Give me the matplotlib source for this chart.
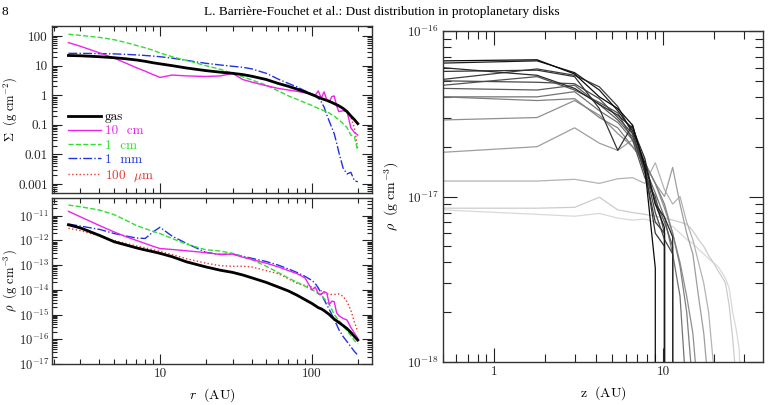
import numpy as np
import matplotlib
matplotlib.use("Agg")
import matplotlib.pyplot as plt
from matplotlib.ticker import FixedLocator, FixedFormatter, LogLocator, NullFormatter

plt.rcParams['mathtext.fontset'] = 'cm'
plt.rcParams['font.family'] = ['DejaVu Serif']

# ---------------- data: radial profiles ----------------
r = [2.5, 3, 4, 5, 6, 7, 8, 9, 10, 12, 15, 20, 25, 30, 35, 40, 50, 60, 70, 80, 90,
     100, 105, 110, 115, 120, 125, 130, 135, 140, 145, 150, 160, 170, 180, 190, 200]

sigma_gas = [22, 21.5, 20, 18.5, 17, 15.5, 14, 12.5, 11.5, 10, 8.3, 6.8, 6.0, 5.5, 5.0, 4.4, 3.4, 2.5, 2.0, 1.6, 1.3,
             1.05, 0.95, 0.85, 0.78, 0.72, 0.67, 0.62, 0.57, 0.52, 0.48, 0.44, 0.36, 0.28, 0.2, 0.15, 0.11]
sigma_10cm = [60, 45, 27, 18, 12, 8.5, 6.5, 5, 4.0, 4.8, 4.5, 4.3, 4.5, 5.5, 3.4, 2.8, 2.1, 1.7, 1.5, 1.35, 1.2,
              1.1, 1.0, 1.4, 0.8, 1.3, 0.7, 0.6, 0.9, 0.95, 0.45, 0.28, 0.3, 0.28, 0.08, 0.055, 0.045]
sigma_1cm = [115, 105, 90, 75, 60, 48, 40, 33, 27, 20, 15, 10, 7.5, 5.5, 4.2, 3.3, 2.2, 1.4, 0.95, 0.72, 0.56,
             0.45, 0.4, 0.36, 0.33, 0.3, 0.27, 0.25, 0.22, 0.2, 0.17, 0.15, 0.11, 0.08, 0.045, 0.04, 0.013]
sigma_1mm = [26, 26, 25.5, 25, 24, 23, 22, 21, 20, 18, 15, 12, 10.5, 9.5, 8.8, 7.8, 5.5, 3.5, 2.5, 1.9, 1.4,
             1.1, 0.95, 0.8, 0.6, 0.4, 0.22, 0.13, 0.08, 0.05, 0.025, 0.012, 0.0035, 0.0022, 0.0025, 0.0013, 0.0012]
sigma_100um = [22, 21.5, 20, 18.5, 17, 15.5, 14, 12.5, 11.5, 10, 8.3, 6.8, 6.0, 5.5, 5.0, 4.4, 3.4, 2.5, 2.0, 1.6, 1.3,
               1.05, 0.95, 0.85, 0.78, 0.72, 0.67, 0.62, 0.57, 0.52, 0.48, 0.44, 0.36, 0.27, 0.18, 0.08, 0.015]

rho_gas = [4.3e-12, 3.2e-12, 1.6e-12, 8.8e-13, 6.5e-13, 5.0e-13, 4.1e-13, 3.5e-13, 3.0e-13, 2.2e-13, 1.35e-13, 8.5e-14,
           6.2e-14, 5.1e-14, 4.0e-14, 3.1e-14, 2.0e-14, 1.3e-14, 9.0e-15, 6.0e-15, 4.0e-15, 2.8e-15, 2.3e-15, 1.9e-15,
           1.7e-15, 1.45e-15, 1.2e-15, 1.0e-15, 8e-16, 6.5e-16, 5.6e-16, 4.8e-16, 3.6e-16, 2.7e-16, 1.9e-16, 1.3e-16, 9.3e-17]
rho_10cm = [1.5e-11, 9e-12, 4e-12, 2.2e-12, 1.4e-12, 1.0e-12, 7.5e-13, 5.8e-13, 4.7e-13, 4.3e-13, 3.8e-13, 3.2e-13,
            2.7e-13, 2.8e-13, 2.1e-13, 1.7e-13, 1.2e-13, 8.5e-14, 6e-14, 4.5e-14, 3.0e-14, 1.0e-14, 1.3e-14, 7e-15,
            6.5e-15, 8.5e-15, 7.5e-15, 2.6e-15, 3.5e-15, 3.3e-15, 1.2e-15, 9e-16, 7e-16, 6e-16, 3e-16, 1.8e-16, 1.1e-16]
rho_1cm = [2.7e-11, 2.3e-11, 1.7e-11, 1.1e-11, 6.5e-12, 4.0e-12, 3.0e-12, 2.3e-12, 1.9e-12, 1.2e-12, 7.0e-13, 4.2e-13,
           3.7e-13, 3.0e-13, 2.2e-13, 1.7e-13, 9e-14, 5e-14, 3e-14, 2.0e-14, 1.4e-14, 1.0e-14, 8.5e-15, 7e-15,
           5.7e-15, 4.5e-15, 3.4e-15, 2.5e-15, 1.6e-15, 1.0e-15, 7.5e-16, 6e-16, 3.5e-16, 2.2e-16, 1.4e-16, 9e-17, 6.5e-17]
rho_1mm = [4.6e-12, 3.8e-12, 2.8e-12, 1.9e-12, 1.5e-12, 1.25e-12, 1.2e-12, 2.2e-12, 3.4e-12, 1.5e-12, 7.5e-13, 3.3e-13,
           2.7e-13, 2.8e-13, 2.3e-13, 1.9e-13, 1.4e-13, 1.0e-13, 7e-14, 5.0e-14, 3.5e-14, 2.4e-14, 1.8e-14, 1.2e-14,
           7e-15, 4e-15, 2.5e-15, 1.6e-15, 1.0e-15, 6e-16, 4e-16, 2.5e-16, 1.3e-16, 8e-17, 5e-17, 3.2e-17, 2.3e-17]
rho_100um = [3.1e-12, 2.5e-12, 1.5e-12, 1.0e-12, 7.5e-13, 6e-13, 5e-13, 4.2e-13, 3.6e-13, 2.7e-13, 1.8e-13, 1.2e-13,
             9.5e-14, 9e-14, 9e-14, 8.5e-14, 6e-14, 4.5e-14, 2.8e-14, 1.8e-14, 1.5e-14, 1.3e-14, 1.2e-14, 1.1e-14,
             9e-15, 7.5e-15, 7e-15, 6.5e-15, 6.5e-15, 6.5e-15, 6.7e-15, 6.8e-15, 5.5e-15, 3.3e-15, 1.5e-15, 5e-16, 2e-16]

series_labels = ['gas', '10  cm', '1  cm', '1  mm', r'100  $\mu$m']
series_colors = ['black', '#ee22ee', '#33dd33', '#2233dd', '#ee3333']
series_styles = ['-', '-', '--', '-.', ':']
series_widths = [2.0, 1.0, 1.0, 1.0, 1.0]

# ---------------- data: vertical profiles (units of 1e-17 g cm^-3) ----------------
z = [0.5, 1.8, 3.0, 4.2, 5.4, 6.6, 7.8, 9.0, 10.2, 11.4, 12.6, 13.8, 15.0, 16.2, 17.4,
     18.6, 19.8, 21.0, 22.2, 23.4, 24.6, 25.8, 27.0, 28.2, 29.4]
vertical_profiles = [
    [0.83, 0.78, 0.76, 0.79, 0.74, 0.72, 0.73, 0.70, 0.68, 0.66, 0.60, 0.55, 0.52, 0.48, 0.45, 0.42, 0.40, 0.38, 0.35, 0.32, 0.28, 0.20, 0.16, 0.12, 0.04],
    [0.85, 0.85, 0.86, 0.99, 0.83, 0.80, 0.78, 0.76, 0.74, 0.72, 0.70, 0.68, 0.62, 0.55, 0.50, 0.44, 0.40, 0.36, 0.33, 0.30, 0.22, 0.14, 0.08, 0.03],
    [1.24, 1.24, 1.27, 1.20, 1.28, 1.30, 1.20, 1.60, 1.10, 0.90, 1.00, 0.70, 0.55, 0.40, 0.30, 0.20, 0.10, 0.05],
    [1.85, 2.00, 2.60, 2.10, 1.90, 2.20, 1.60, 1.20, 1.00, 1.50, 0.90, 0.60, 0.45, 0.25, 0.15, 0.07],
    [2.90, 3.00, 3.80, 3.10, 2.40, 2.00, 1.60, 1.20, 0.85, 0.60, 0.40, 0.25, 0.15, 0.06],
    [4.00, 3.80, 3.90, 3.00, 2.60, 2.00, 1.60, 1.20, 0.90, 0.60, 0.38, 0.20, 0.07],
    [4.00, 4.00, 4.30, 3.30, 2.80, 2.20, 1.50, 1.05, 0.75, 0.45, 0.25, 0.06],
    [4.50, 4.40, 4.70, 3.60, 2.90, 2.30, 1.40, 0.95, 0.70, 0.50, 0],
    [4.70, 5.30, 4.40, 3.70, 3.20, 2.20, 1.30, 1.00, 0.60, 0],
    [5.00, 4.90, 4.80, 3.90, 3.00, 2.40, 1.50, 0.80, 0.55, 0.45, 0],
    [5.10, 5.90, 5.40, 4.60, 3.50, 2.40, 1.40, 0.70, 0.60, 0],
    [5.70, 5.80, 5.30, 3.40, 1.90, 2.70, 1.50, 0.60, 0.50, 0],
    [6.00, 5.40, 4.50, 3.60, 3.10, 2.60, 1.70, 0.90, 0.75, 0.57, 0],
    [6.40, 6.60, 5.60, 4.40, 3.30, 2.50, 1.60, 0.90, 0.65, 0],
    [6.60, 6.70, 5.50, 4.00, 3.40, 2.70, 1.50, 0.37, 0],
]
profile_grays = [0.85, 0.80, 0.70, 0.62, 0.56, 0.50, 0.45, 0.36, 0.32, 0.28, 0.24, 0.20, 0.16, 0.10, 0.04]

sigma_ticks = [1e-3, 1e-2, 1e-1, 1, 10, 100]
sigma_ticklabels = ['0.001', '0.01', '0.1', '1', '10', '100']
rho_ticks = [1e-17, 1e-16, 1e-15, 1e-14, 1e-13, 1e-12, 1e-11]
rho_ticklabels = [r'$10^{-17}$', r'$10^{-16}$', r'$10^{-15}$', r'$10^{-14}$', r'$10^{-13}$', r'$10^{-12}$', r'$10^{-11}$']
r_ticks = [10, 100]
r_ticklabels = ['10', '100']
vz_ticks = [1e-18, 1e-17, 1e-16]
vz_ticklabels = [r'$10^{-18}$', r'$10^{-17}$', r'$10^{-16}$']
z_ticks = [1, 10]
z_ticklabels = ['1', '10']

# ---------------- figure ----------------
W, H = 768, 405
fig = plt.figure(figsize=(W / 100, H / 100), dpi=100)

def box(l, t, rr, b):
    return [l / W, 1 - b / H, (rr - l) / W, (b - t) / H]

ax1 = fig.add_axes(box(52, 26, 372, 193))
ax2 = fig.add_axes(box(52, 198, 372, 364))
ax3 = fig.add_axes(box(443, 31, 763, 362))

def style(ax):
    ax.set_xscale('log')
    ax.set_yscale('log')
    ax.tick_params(which='both', direction='in', top=True, right=True, width=0.8, colors='#222222')
    ax.tick_params(which='major', length=7, labelsize=9.5, pad=3)
    ax.tick_params(which='minor', length=3.5)
    for s in ax.spines.values():
        s.set_linewidth(1.0)
        s.set_color('#333333')
    ax.xaxis.set_minor_locator(LogLocator(base=10, subs=np.arange(2, 10), numticks=20))
    ax.yaxis.set_minor_locator(LogLocator(base=10, subs=np.arange(2, 10), numticks=40))
    ax.xaxis.set_minor_formatter(NullFormatter())
    ax.yaxis.set_minor_formatter(NullFormatter())

sig_data = [sigma_gas, sigma_10cm, sigma_1cm, sigma_1mm, sigma_100um]
rho_data = [rho_gas, rho_10cm, rho_1cm, rho_1mm, rho_100um]

order = [4, 3, 2, 1, 0]
for i in order:
    ax1.plot(r, sig_data[i], color=series_colors[i], ls=series_styles[i], lw=series_widths[i],
             label=series_labels[i], zorder=3 + (i == 0))
    ax2.plot(r, rho_data[i], color=series_colors[i], ls=series_styles[i], lw=series_widths[i],
             zorder=3 + (i == 0))

for ax in (ax1, ax2):
    style(ax)
    ax.set_xlim(1.95, 248)
    ax.xaxis.set_major_locator(FixedLocator(r_ticks))
    ax.xaxis.set_major_formatter(FixedFormatter(r_ticklabels))

ax1.set_ylim(5e-4, 218)
ax1.yaxis.set_major_locator(FixedLocator(sigma_ticks))
ax1.yaxis.set_major_formatter(FixedFormatter(sigma_ticklabels))
ax1.tick_params(labelbottom=False)

ax2.set_ylim(1e-17, 5.2e-11)
ax2.yaxis.set_major_locator(FixedLocator(rho_ticks))
ax2.yaxis.set_major_formatter(FixedFormatter(rho_ticklabels))
ax2.tick_params(axis='y', which='major', labelsize=9, pad=2)

for ax in (ax1, ax2):
    for lab in ax.get_yticklabels() + ax.get_xticklabels():
        lab.set_fontfamily('cmr10')

handles, labels = ax1.get_legend_handles_labels()
hl = dict(zip(labels, handles))
leg = ax1.legend([hl[l] for l in series_labels], series_labels, loc='lower left',
                 bbox_to_anchor=(0.02, 0.0), frameon=False, fontsize=9.5,
                 handlelength=2.5, handletextpad=0.3, labelspacing=0.15, borderaxespad=0.3)
for t, c in zip(leg.get_texts(), series_colors):
    t.set_color(c)
    t.set_fontfamily('cmr10')

ax1.set_ylabel(r'$\Sigma\ \ (\mathrm{g\ cm^{-2}})$', fontsize=9)
ax2.set_ylabel(r'$\rho\ \ (\mathrm{g\ cm^{-3}})$', fontsize=9)
ax2.set_xlabel(r'$r\ \ (\mathrm{AU})$', fontsize=10)
ax1.yaxis.set_label_coords(-0.104, 0.5)
ax2.yaxis.set_label_coords(-0.104, 0.5)

# right panel
for prof, g in zip(vertical_profiles, profile_grays):
    vals = np.array(prof, dtype=float) * 1e-17
    ax3.plot(z[:len(vals)], vals, color=str(g), lw=0.9)
style(ax3)
ax3.set_xlim(0.5, 39)
ax3.set_ylim(1e-18, 1e-16)
ax3.xaxis.set_major_locator(FixedLocator(z_ticks))
ax3.xaxis.set_major_formatter(FixedFormatter(z_ticklabels))
ax3.yaxis.set_major_locator(FixedLocator(vz_ticks))
ax3.yaxis.set_major_formatter(FixedFormatter(vz_ticklabels))
ax3.tick_params(which='major', length=10)
ax3.tick_params(which='minor', length=6)
for lab in ax3.get_yticklabels() + ax3.get_xticklabels():
    lab.set_fontfamily('cmr10')
ax3.set_ylabel(r'$\rho\ \ (\mathrm{g\ cm^{-3}})$', fontsize=10)
ax3.set_xlabel(r'$\mathrm{z}\ \ (\mathrm{AU})$', fontsize=10)

fig.text(0.002, 0.985, '8', family='Liberation Serif', fontsize=9.5, va='top', ha='left')
fig.text(0.497, 0.985, 'L. Barrière-Fouchet et al.: Dust distribution in protoplanetary disks',
         family='Liberation Serif', fontsize=9.5, va='top', ha='center')

fig.savefig('out.png', dpi=100)
